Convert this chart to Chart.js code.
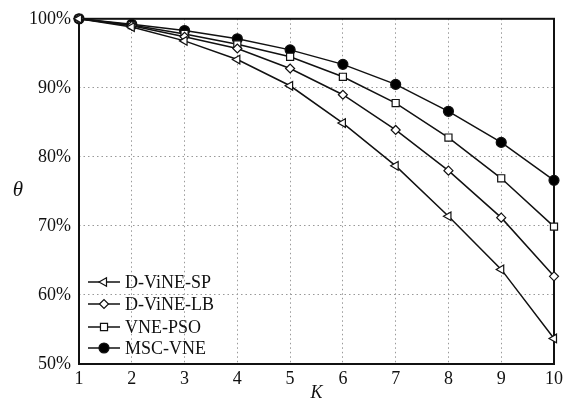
<!DOCTYPE html>
<html>
<head>
<meta charset="utf-8">
<script src="https://cdn.jsdelivr.net/npm/chart.js@4"></script>
<style>
  body { margin: 0; background: #fff; }
</style>
</head>
<body>
<canvas id="chart" width="567" height="402"></canvas>
<script>
// values
const kValues = [1, 2, 3, 4, 5, 6, 7, 8, 9, 10];
const seriesNames = ['D-ViNE-SP', 'D-ViNE-LB', 'VNE-PSO', 'MSC-VNE'];
const dvineSP = [100, 98.8, 96.8, 94.1, 90.3, 84.9, 78.7, 71.4, 63.7, 53.7];
const dvineLB = [100, 99.0, 97.4, 95.7, 92.8, 89.0, 83.9, 78.0, 71.2, 62.7];
const vnePSO = [100, 99.1, 97.8, 96.3, 94.5, 91.6, 87.8, 82.8, 76.9, 69.9];
const mscVNE = [100, 99.2, 98.3, 97.1, 95.5, 93.4, 90.5, 86.6, 82.1, 76.6];
const yTicks = [50, 60, 70, 80, 90, 100];

const serif = '"Liberation Serif", "DejaVu Serif", serif';

const styles = [
  { pointStyle: 'triangle', rotation: -90, radius: 5, fill: '#fff' },
  { pointStyle: 'rectRot', rotation: 0, radius: 4.5, fill: '#fff' },
  { pointStyle: 'rect', rotation: 0, radius: 5, fill: '#fff' },
  { pointStyle: 'circle', rotation: 0, radius: 5, fill: '#000' }
];

const toPoints = (vals) => vals.map((v, i) => ({ x: kValues[i], y: v }));

const datasets = [dvineSP, dvineLB, vnePSO, mscVNE].map((vals, i) => ({
  label: seriesNames[i],
  data: toPoints(vals),
  borderColor: '#111',
  borderWidth: 1.5,
  backgroundColor: styles[i].fill,
  pointStyle: styles[i].pointStyle,
  rotation: styles[i].rotation,
  pointRadius: styles[i].radius,
  pointBorderWidth: 1.2,
  pointBorderColor: '#111',
  pointBackgroundColor: styles[i].fill,
  clip: false,
  tension: 0
}));

// frame under the lines
const frame = {
  id: 'frame',
  beforeDatasetsDraw(chart) {
    const { ctx, chartArea: a } = chart;
    ctx.save();
    ctx.strokeStyle = '#111';
    ctx.lineWidth = 2;
    ctx.strokeRect(a.left, a.top, a.right - a.left, a.bottom - a.top);
    ctx.restore();
  }
};

// theta label and legend inside the plot area
const extras = {
  id: 'extras',
  afterDraw(chart) {
    const { ctx, chartArea: a } = chart;
    ctx.save();
    ctx.fillStyle = '#111';
    ctx.font = 'italic 21px ' + serif;
    ctx.textAlign = 'center';
    ctx.textBaseline = 'middle';
    ctx.fillText('θ', 18, 190);

    ctx.font = '18px ' + serif;
    ctx.textAlign = 'left';
    const offsets = [82, 60, 37, 16];
    chart.data.datasets.forEach((ds, i) => {
      const y = a.bottom - offsets[i];
      const x0 = a.left + 9;
      ctx.strokeStyle = '#111';
      ctx.lineWidth = 1.5;
      ctx.beginPath();
      ctx.moveTo(x0, y);
      ctx.lineTo(x0 + 32, y);
      ctx.stroke();
      ctx.fillStyle = styles[i].fill;
      ctx.lineWidth = 1.2;
      Chart.helpers.drawPoint(ctx, {
        pointStyle: styles[i].pointStyle,
        rotation: styles[i].rotation,
        radius: styles[i].radius,
        borderWidth: 1.2
      }, x0 + 16, y);
      ctx.fillStyle = '#111';
      ctx.fillText(ds.label, x0 + 37, y + 1);
    });
    ctx.restore();
  }
};

new Chart(document.getElementById('chart'), {
  type: 'line',
  data: { datasets },
  options: {
    responsive: false,
    animation: false,
    layout: { padding: { left: 0, right: 11, top: 18, bottom: 0 } },
    plugins: { legend: { display: false }, tooltip: { enabled: false } },
    scales: {
      x: {
        type: 'linear',
        min: 1,
        max: 10,
        afterFit: (s) => { s.height = 38; },
        ticks: { stepSize: 1, color: '#111', padding: 4, font: { family: serif, size: 18 } },
        grid: { color: '#999', lineWidth: 1, drawTicks: false },
        border: { display: false, dash: [1.5, 3] },
        title: {
          display: true, text: 'K', color: '#111', padding: { top: 0, bottom: 0 },
          font: { family: serif, size: 18, style: 'italic', lineHeight: 1 }
        }
      },
      y: {
        min: 50,
        max: 100,
        afterFit: (s) => { s.width = 79; },
        afterBuildTicks: (s) => { s.ticks = yTicks.map(v => ({ value: v })); },
        ticks: { color: '#111', padding: 8, font: { family: serif, size: 18 }, callback: (v) => v + '%' },
        grid: { color: '#999', lineWidth: 1, drawTicks: false },
        border: { display: false, dash: [1.5, 3] }
      }
    }
  },
  plugins: [frame, extras]
});
</script>
</body>
</html>
